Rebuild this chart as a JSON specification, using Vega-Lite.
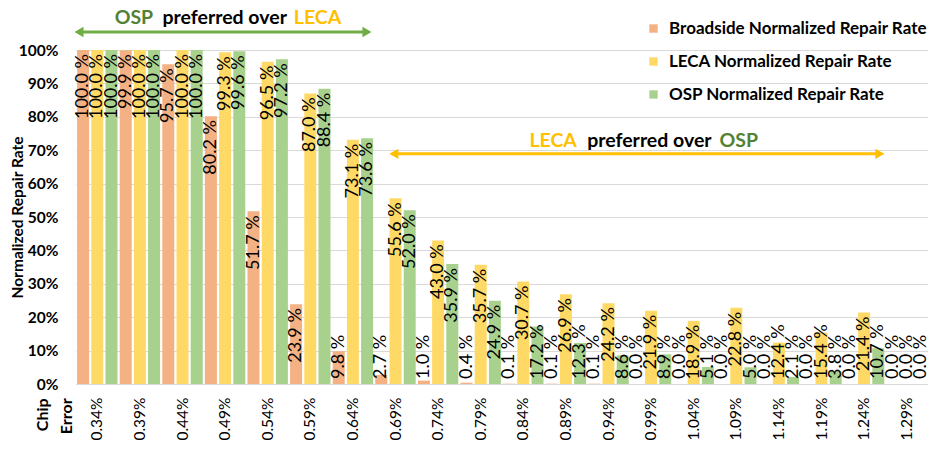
{
  "$schema": "https://vega.github.io/schema/vega-lite/v6.json",
  "width": 852,
  "height": 334,
  "autosize": "none",
  "padding": {"left": 76, "top": 50, "right": 0, "bottom": 66},
  "background": "white",
  "config": {"view": {"stroke": null}, "font": "Lato"},
  "datasets": {
    "rates": [
      {"error": "0.34%", "series": "Broadside Normalized Repair Rate", "value": 100.0},
      {"error": "0.34%", "series": "LECA Normalized Repair Rate", "value": 100.0},
      {"error": "0.34%", "series": "OSP Normalized Repair Rate", "value": 100.0},
      {"error": "0.39%", "series": "Broadside Normalized Repair Rate", "value": 99.9},
      {"error": "0.39%", "series": "LECA Normalized Repair Rate", "value": 100.0},
      {"error": "0.39%", "series": "OSP Normalized Repair Rate", "value": 100.0},
      {"error": "0.44%", "series": "Broadside Normalized Repair Rate", "value": 95.7},
      {"error": "0.44%", "series": "LECA Normalized Repair Rate", "value": 100.0},
      {"error": "0.44%", "series": "OSP Normalized Repair Rate", "value": 100.0},
      {"error": "0.49%", "series": "Broadside Normalized Repair Rate", "value": 80.2},
      {"error": "0.49%", "series": "LECA Normalized Repair Rate", "value": 99.3},
      {"error": "0.49%", "series": "OSP Normalized Repair Rate", "value": 99.6},
      {"error": "0.54%", "series": "Broadside Normalized Repair Rate", "value": 51.7},
      {"error": "0.54%", "series": "LECA Normalized Repair Rate", "value": 96.5},
      {"error": "0.54%", "series": "OSP Normalized Repair Rate", "value": 97.2},
      {"error": "0.59%", "series": "Broadside Normalized Repair Rate", "value": 23.9},
      {"error": "0.59%", "series": "LECA Normalized Repair Rate", "value": 87.0},
      {"error": "0.59%", "series": "OSP Normalized Repair Rate", "value": 88.4},
      {"error": "0.64%", "series": "Broadside Normalized Repair Rate", "value": 9.8},
      {"error": "0.64%", "series": "LECA Normalized Repair Rate", "value": 73.1},
      {"error": "0.64%", "series": "OSP Normalized Repair Rate", "value": 73.6},
      {"error": "0.69%", "series": "Broadside Normalized Repair Rate", "value": 2.7},
      {"error": "0.69%", "series": "LECA Normalized Repair Rate", "value": 55.6},
      {"error": "0.69%", "series": "OSP Normalized Repair Rate", "value": 52.0},
      {"error": "0.74%", "series": "Broadside Normalized Repair Rate", "value": 1.0},
      {"error": "0.74%", "series": "LECA Normalized Repair Rate", "value": 43.0},
      {"error": "0.74%", "series": "OSP Normalized Repair Rate", "value": 35.9},
      {"error": "0.79%", "series": "Broadside Normalized Repair Rate", "value": 0.4},
      {"error": "0.79%", "series": "LECA Normalized Repair Rate", "value": 35.7},
      {"error": "0.79%", "series": "OSP Normalized Repair Rate", "value": 24.9},
      {"error": "0.84%", "series": "Broadside Normalized Repair Rate", "value": 0.1},
      {"error": "0.84%", "series": "LECA Normalized Repair Rate", "value": 30.7},
      {"error": "0.84%", "series": "OSP Normalized Repair Rate", "value": 17.2},
      {"error": "0.89%", "series": "Broadside Normalized Repair Rate", "value": 0.1},
      {"error": "0.89%", "series": "LECA Normalized Repair Rate", "value": 26.9},
      {"error": "0.89%", "series": "OSP Normalized Repair Rate", "value": 12.3},
      {"error": "0.94%", "series": "Broadside Normalized Repair Rate", "value": 0.1},
      {"error": "0.94%", "series": "LECA Normalized Repair Rate", "value": 24.2},
      {"error": "0.94%", "series": "OSP Normalized Repair Rate", "value": 8.6},
      {"error": "0.99%", "series": "Broadside Normalized Repair Rate", "value": 0.0},
      {"error": "0.99%", "series": "LECA Normalized Repair Rate", "value": 21.9},
      {"error": "0.99%", "series": "OSP Normalized Repair Rate", "value": 8.9},
      {"error": "1.04%", "series": "Broadside Normalized Repair Rate", "value": 0.0},
      {"error": "1.04%", "series": "LECA Normalized Repair Rate", "value": 18.9},
      {"error": "1.04%", "series": "OSP Normalized Repair Rate", "value": 5.1},
      {"error": "1.09%", "series": "Broadside Normalized Repair Rate", "value": 0.0},
      {"error": "1.09%", "series": "LECA Normalized Repair Rate", "value": 22.8},
      {"error": "1.09%", "series": "OSP Normalized Repair Rate", "value": 5.0},
      {"error": "1.14%", "series": "Broadside Normalized Repair Rate", "value": 0.0},
      {"error": "1.14%", "series": "LECA Normalized Repair Rate", "value": 12.4},
      {"error": "1.14%", "series": "OSP Normalized Repair Rate", "value": 2.1},
      {"error": "1.19%", "series": "Broadside Normalized Repair Rate", "value": 0.0},
      {"error": "1.19%", "series": "LECA Normalized Repair Rate", "value": 15.4},
      {"error": "1.19%", "series": "OSP Normalized Repair Rate", "value": 3.8},
      {"error": "1.24%", "series": "Broadside Normalized Repair Rate", "value": 0.0},
      {"error": "1.24%", "series": "LECA Normalized Repair Rate", "value": 21.4},
      {"error": "1.24%", "series": "OSP Normalized Repair Rate", "value": 10.7},
      {"error": "1.29%", "series": "Broadside Normalized Repair Rate", "value": 0.0},
      {"error": "1.29%", "series": "LECA Normalized Repair Rate", "value": 0.0},
      {"error": "1.29%", "series": "OSP Normalized Repair Rate", "value": 0.0}
    ],
    "arrows": [
      {"kind": "OSP preferred", "x1": 0.07, "x2": 6.83, "y": 105.4},
      {"kind": "LECA preferred", "x1": 7.46, "x2": 18.87, "y": 68.9}
    ],
    "words": [
      {"word": "OSP", "x": 1.36, "y": 109.6},
      {"word": "preferred over", "x": 3.49, "y": 109.6},
      {"word": "LECA", "x": 5.67, "y": 109.6},
      {"word": "LECA", "x": 11.2, "y": 72.8},
      {"word": "preferred over", "x": 13.46, "y": 72.8},
      {"word": "OSP", "x": 15.56, "y": 72.8}
    ],
    "axistitle": [
      {"word": "Chip", "x": -0.78, "y": -4.3},
      {"word": "Error", "x": -0.22, "y": -4.3}
    ]
  },
  "layer": [
    {
      "data": {"name": "rates"},
      "mark": {"type": "bar"},
      "encoding": {
        "x": {
          "field": "error", "type": "nominal", "sort": null,
          "scale": {"domain": ["0.34%","0.39%","0.44%","0.49%","0.54%","0.59%","0.64%","0.69%","0.74%","0.79%","0.84%","0.89%","0.94%","0.99%","1.04%","1.09%","1.14%","1.19%","1.24%","1.29%"], "paddingInner": 0, "paddingOuter": 0},
          "title": null,
          "axis": {
            "labelAngle": 270, "labelAlign": "right", "labelBaseline": "middle",
            "labelPadding": 13, "ticks": false, "domainColor": "#D9D9D9", "domainWidth": 1,
            "labelFontSize": 15.5, "labelColor": "black", "labelFont": "Lato"
          }
        },
        "xOffset": {"field": "series", "type": "nominal", "scale": {"paddingInner": 0.155, "paddingOuter": 0.0775}},
        "y": {
          "field": "value", "type": "quantitative",
          "scale": {"domain": [0, 100], "nice": false},
          "title": "Normalized Repair Rate",
          "axis": {
            "values": [0, 10, 20, 30, 40, 50, 60, 70, 80, 90, 100],
            "labelExpr": "datum.value + '%'",
            "domain": false, "ticks": false, "labelPadding": 18,
            "gridColor": "#D9D9D9", "gridWidth": 1,
            "labelFontSize": 15.5, "labelFontWeight": "bold", "labelColor": "black", "labelFont": "Lato",
            "titleFont": "Lato", "titleFontSize": 15.5, "titleFontWeight": "bold", "titleColor": "black",
            "titleAngle": 270, "titleBaseline": "middle", "titleAlign": "center",
            "titleX": -59, "titleY": 167
          }
        },
        "color": {
          "field": "series", "type": "nominal",
          "scale": {"range": ["#F4B183", "#FFD966", "#A9D18E"]},
          "legend": {
            "orient": "none", "legendX": 569, "legendY": -30, "title": null,
            "symbolType": "square", "symbolSize": 70, "symbolStrokeWidth": 0,
            "labelFontSize": 17, "labelFontWeight": "bold", "labelColor": "black", "labelFont": "Lato",
            "rowPadding": 15, "labelOffset": 7, "padding": 0, "labelLimit": 400
          }
        }
      }
    },
    {
      "data": {"name": "rates"},
      "transform": [{"filter": "datum.value >= 18"}],
      "mark": {
        "type": "text", "angle": 270, "align": "right", "baseline": "middle", "dx": -4,
        "fontSize": 18, "font": "Lato", "color": "black",
        "text": {"expr": "format(datum.value, '.1f') + ' %'"}
      },
      "encoding": {
        "x": {"field": "error", "type": "nominal", "sort": null, "axis": null,
          "scale": {"domain": ["0.34%","0.39%","0.44%","0.49%","0.54%","0.59%","0.64%","0.69%","0.74%","0.79%","0.84%","0.89%","0.94%","0.99%","1.04%","1.09%","1.14%","1.19%","1.24%","1.29%"], "paddingInner": 0, "paddingOuter": 0}},
        "xOffset": {"field": "series", "type": "nominal"},
        "y": {"field": "value", "type": "quantitative", "axis": null, "scale": {"domain": [0, 100], "nice": false}}
      }
    },
    {
      "data": {"name": "rates"},
      "transform": [{"filter": "datum.value < 18"}],
      "mark": {
        "type": "text", "angle": 270, "align": "left", "baseline": "middle", "dx": 5,
        "fontSize": 18, "font": "Lato", "color": "black",
        "text": {"expr": "format(datum.value, '.1f') + ' %'"}
      },
      "encoding": {
        "x": {"field": "error", "type": "nominal", "sort": null, "axis": null,
          "scale": {"domain": ["0.34%","0.39%","0.44%","0.49%","0.54%","0.59%","0.64%","0.69%","0.74%","0.79%","0.84%","0.89%","0.94%","0.99%","1.04%","1.09%","1.14%","1.19%","1.24%","1.29%"], "paddingInner": 0, "paddingOuter": 0}},
        "xOffset": {"field": "series", "type": "nominal"},
        "y": {"datum": 0, "type": "quantitative", "axis": null, "scale": {"domain": [0, 100], "nice": false}}
      }
    },
    {
      "data": {"name": "arrows"},
      "mark": {"type": "rule", "strokeWidth": 3},
      "encoding": {
        "x": {"field": "x1", "type": "quantitative", "scale": {"domain": [0, 20], "nice": false, "zero": false}, "axis": null},
        "x2": {"field": "x2"},
        "y": {"field": "y", "type": "quantitative", "axis": null, "scale": {"domain": [0, 100], "nice": false}},
        "stroke": {"field": "kind", "type": "nominal", "scale": {"domain": ["OSP preferred", "LECA preferred"], "range": ["#70AD47", "#FFC000"]}, "legend": null}
      }
    },
    {
      "data": {"name": "arrows"},
      "mark": {"type": "point", "shape": "triangle-left", "filled": true, "size": 110, "opacity": 1, "strokeWidth": 0},
      "encoding": {
        "x": {"field": "x1", "type": "quantitative", "scale": {"domain": [0, 20], "nice": false, "zero": false}, "axis": null},
        "y": {"field": "y", "type": "quantitative", "axis": null, "scale": {"domain": [0, 100], "nice": false}},
        "fill": {"field": "kind", "type": "nominal", "scale": {"domain": ["OSP preferred", "LECA preferred"], "range": ["#70AD47", "#FFC000"]}, "legend": null}
      }
    },
    {
      "data": {"name": "arrows"},
      "mark": {"type": "point", "shape": "triangle-right", "filled": true, "size": 110, "opacity": 1, "strokeWidth": 0},
      "encoding": {
        "x": {"field": "x2", "type": "quantitative", "scale": {"domain": [0, 20], "nice": false, "zero": false}, "axis": null},
        "y": {"field": "y", "type": "quantitative", "axis": null, "scale": {"domain": [0, 100], "nice": false}},
        "fill": {"field": "kind", "type": "nominal", "scale": {"domain": ["OSP preferred", "LECA preferred"], "range": ["#70AD47", "#FFC000"]}, "legend": null}
      }
    },
    {
      "data": {"name": "words"},
      "transform": [{"filter": "datum.word == 'OSP'"}],
      "mark": {"type": "text", "font": "Lato", "fontSize": 19.5, "fontWeight": "bold", "color": "#548235", "align": "center", "baseline": "middle"},
      "encoding": {
        "x": {"field": "x", "type": "quantitative", "scale": {"domain": [0, 20], "nice": false, "zero": false}, "axis": null},
        "y": {"field": "y", "type": "quantitative", "axis": null, "scale": {"domain": [0, 100], "nice": false}},
        "text": {"field": "word"}
      }
    },
    {
      "data": {"name": "words"},
      "transform": [{"filter": "datum.word == 'preferred over'"}],
      "mark": {"type": "text", "font": "Lato", "fontSize": 19.5, "fontWeight": "bold", "color": "black", "align": "center", "baseline": "middle"},
      "encoding": {
        "x": {"field": "x", "type": "quantitative", "scale": {"domain": [0, 20], "nice": false, "zero": false}, "axis": null},
        "y": {"field": "y", "type": "quantitative", "axis": null, "scale": {"domain": [0, 100], "nice": false}},
        "text": {"field": "word"}
      }
    },
    {
      "data": {"name": "words"},
      "transform": [{"filter": "datum.word == 'LECA'"}],
      "mark": {"type": "text", "font": "Lato", "fontSize": 19.5, "fontWeight": "bold", "color": "#FFC000", "align": "center", "baseline": "middle"},
      "encoding": {
        "x": {"field": "x", "type": "quantitative", "scale": {"domain": [0, 20], "nice": false, "zero": false}, "axis": null},
        "y": {"field": "y", "type": "quantitative", "axis": null, "scale": {"domain": [0, 100], "nice": false}},
        "text": {"field": "word"}
      }
    },
    {
      "data": {"name": "axistitle"},
      "mark": {"type": "text", "font": "Lato", "fontSize": 16, "fontWeight": "bold", "color": "black", "angle": 270, "align": "right", "baseline": "middle"},
      "encoding": {
        "x": {"field": "x", "type": "quantitative", "scale": {"domain": [0, 20], "nice": false, "zero": false}, "axis": null},
        "y": {"field": "y", "type": "quantitative", "axis": null, "scale": {"domain": [0, 100], "nice": false}},
        "text": {"field": "word"}
      }
    }
  ],
  "resolve": {"scale": {"x": "independent", "y": "independent"}}
}
